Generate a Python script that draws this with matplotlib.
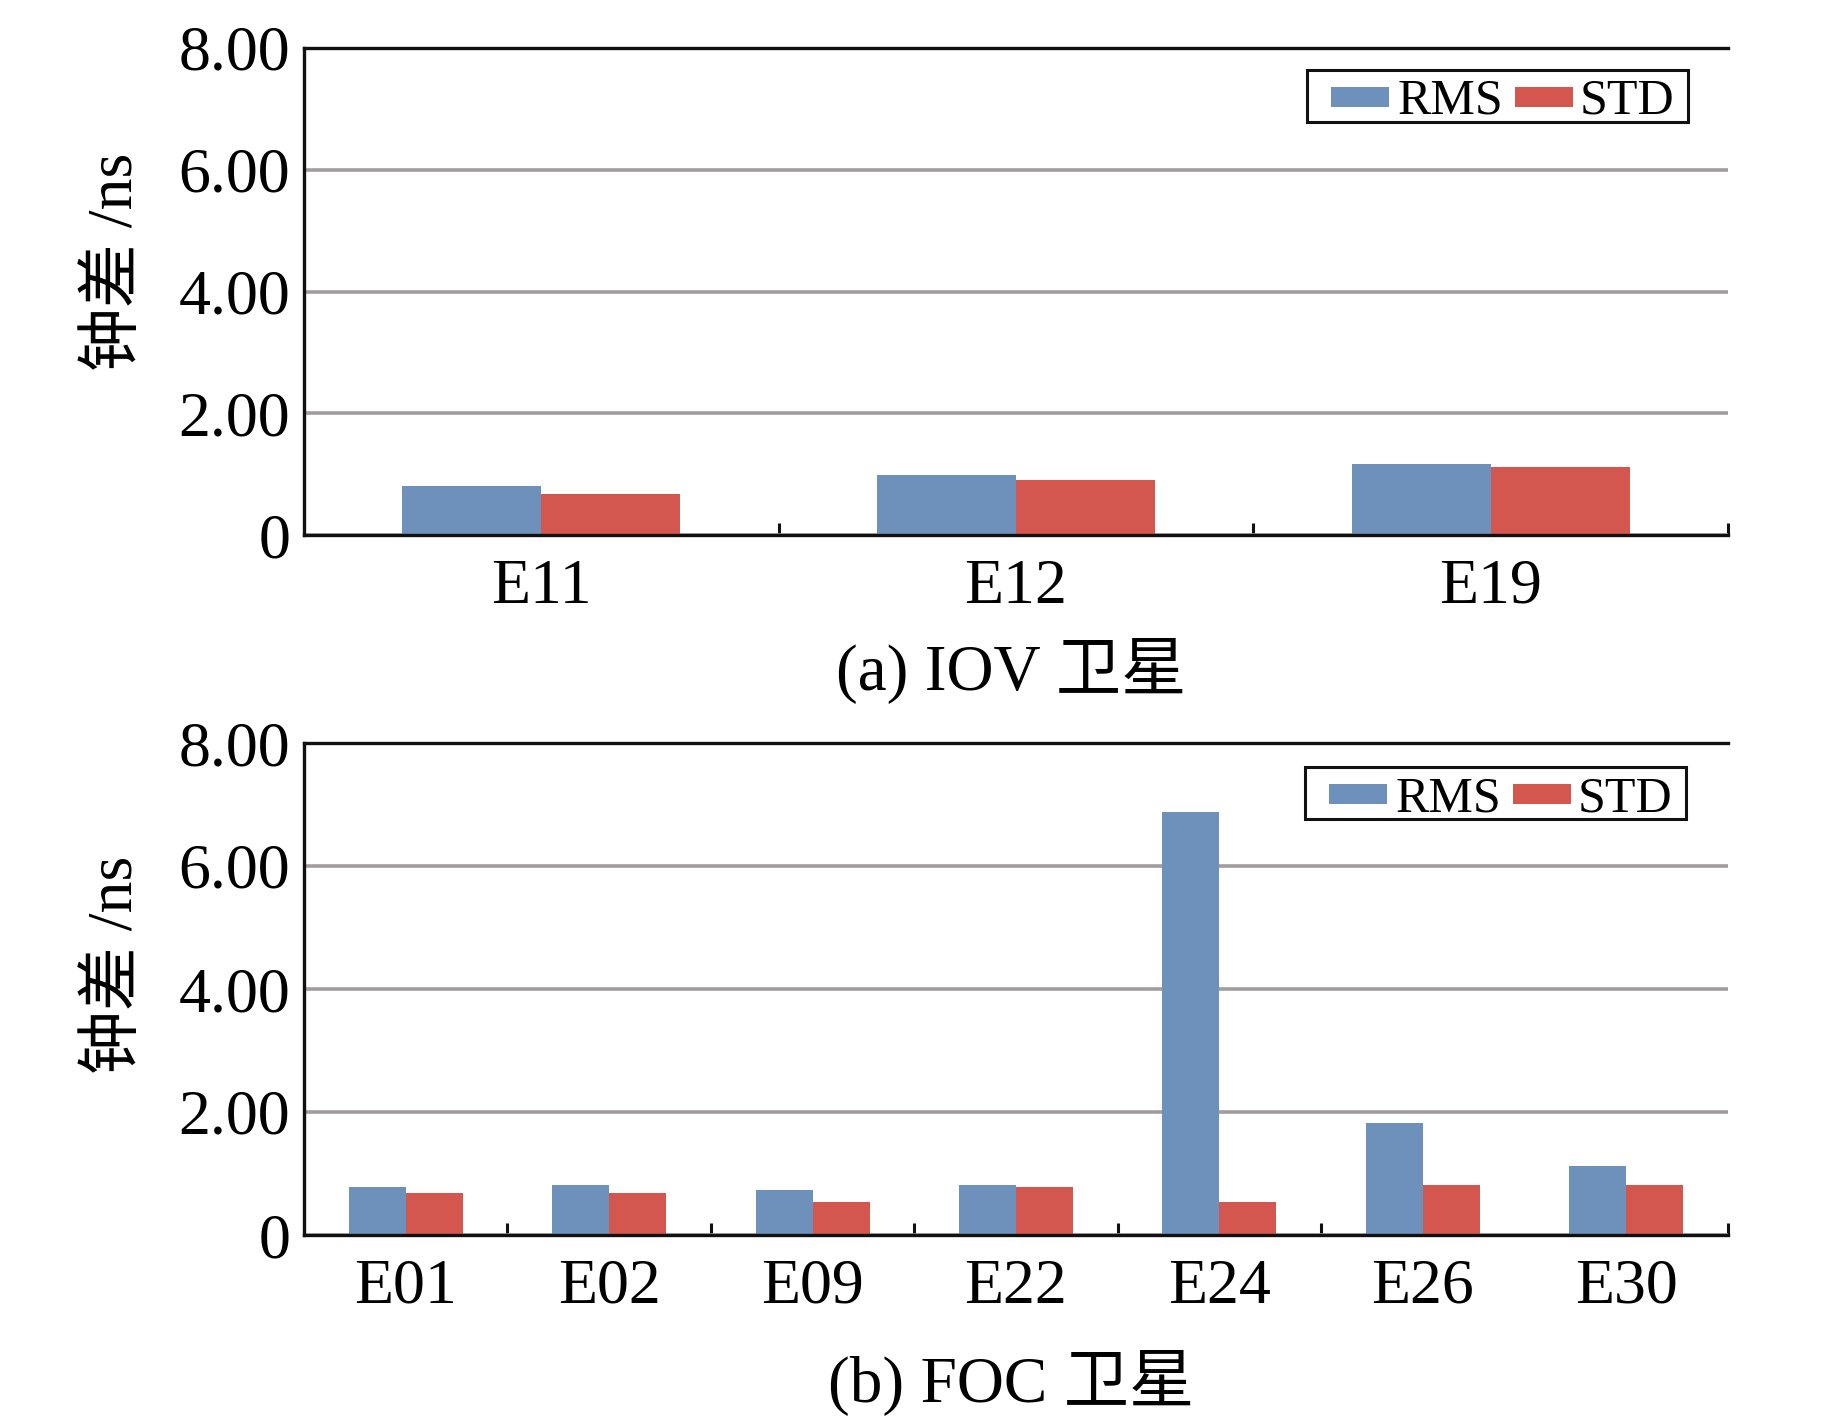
import matplotlib
matplotlib.use("Agg")
import matplotlib.pyplot as plt
from matplotlib.patches import Rectangle
import numpy as np

plt.rcParams['font.family'] = ['Liberation Serif', 'Noto Sans CJK SC']

# ---------------- data ----------------
iov_sats = ['E11', 'E12', 'E19']
iov_rms = [0.81, 0.99, 1.16]
iov_std = [0.67, 0.90, 1.12]

foc_sats = ['E01', 'E02', 'E09', 'E22', 'E24', 'E26', 'E30']
foc_rms = [0.78, 0.82, 0.73, 0.82, 6.87, 1.82, 1.12]
foc_std = [0.69, 0.68, 0.54, 0.78, 0.54, 0.82, 0.82]

y_ticks = [0, 2, 4, 6, 8]
y_ticklabels = ['0', '2.00', '4.00', '6.00', '8.00']
series_names = ['RMS', 'STD']
ylabel = '钟差 /ns'
subtitles = ['(a) IOV 卫星', '(b) FOC 卫星']

# ---------------- style ----------------
W, H = 1843, 1417
DPI = 100
C_RMS = '#6D91BB'
C_STD = '#D4574F'
C_GRID = '#A29D9D'
C_AX = '#111111'
FS = 46

fig = plt.figure(figsize=(W / DPI, H / DPI), dpi=DPI)


def px2fig(x, y):
    return x / W, 1 - y / H


def make_axes(top_px, bottom_px):
    left, right = 304, 1728
    return fig.add_axes([left / W, 1 - bottom_px / H, (right - left) / W,
                        (bottom_px - top_px) / H])


def draw_panel(ax, cats, rms, std, width, tick_bounds):
    n = len(cats)
    x = np.arange(n)
    ax.bar(x - width / 2, rms, width, color=C_RMS, zorder=2, linewidth=0)
    ax.bar(x + width / 2, std, width, color=C_STD, zorder=2, linewidth=0)
    ax.set_xlim(-0.5, n - 0.5)
    ax.set_ylim(0, 8)
    ax.set_yticks(y_ticks)
    ax.set_yticklabels(y_ticklabels)
    ax.set_xticks(x)
    ax.set_xticklabels(cats)
    ax.set_xticks(tick_bounds, minor=True)
    ax.tick_params(axis='y', length=0, pad=10, labelsize=FS)
    ax.tick_params(axis='x', which='major', length=0, pad=17, labelsize=FS)
    ax.tick_params(axis='x', which='minor', direction='in', length=9,
                   width=2.2, color=C_AX)
    ax.yaxis.grid(True, color=C_GRID, linewidth=2.6, zorder=0)
    ax.set_axisbelow(True)
    ax.spines['right'].set_visible(False)
    for s in ['top', 'left', 'bottom']:
        ax.spines[s].set_color(C_AX)
        ax.spines[s].set_linewidth(2.4)
        ax.spines[s].set_zorder(3)


def draw_legend(dx, dy):
    # box
    bx0, by0 = px2fig(1307 + dx, 122 + dy)
    bx1, by1 = px2fig(1688 + dx, 70 + dy)
    fig.patches.append(Rectangle((bx0, by0), bx1 - bx0, by1 - by0,
                                 transform=fig.transFigure, facecolor='white',
                                 edgecolor=C_AX, linewidth=2.2, zorder=5))
    for (hx0, hx1, tx), name, col in zip(
            [(1331, 1389, 1398), (1515, 1573, 1580)], series_names,
            [C_RMS, C_STD]):
        x0, y0 = px2fig(hx0 + dx, 107 + dy)
        x1, y1 = px2fig(hx1 + dx, 87 + dy)
        fig.patches.append(Rectangle((x0, y0), x1 - x0, y1 - y0,
                                     transform=fig.transFigure, facecolor=col,
                                     edgecolor='none', zorder=6))
        tx_, ty_ = px2fig(tx + dx, 114 + dy)
        fig.text(tx_, ty_, name, fontsize=36, ha='left', va='baseline',
                 zorder=7)


ax1 = make_axes(48, 535)
draw_panel(ax1, iov_sats, iov_rms, iov_std, 0.293, [0.5, 1.5, 2.5])
ax2 = make_axes(743, 1235)
draw_panel(ax2, foc_sats, foc_rms, foc_std, 0.28,
           [0.5, 1.5, 2.5, 3.5, 4.5, 6.5])

draw_legend(0, 0)
draw_legend(-2, 697)

# y labels
for cy in (262, 965):
    x, y = px2fig(117, cy)
    fig.text(x, y, ylabel, fontsize=46, rotation=90, ha='center',
             va='center')

# subtitles
for base, txt in zip((690, 1402), subtitles):
    x, y = px2fig(1011, base)
    fig.text(x, y, txt, fontsize=47, ha='center', va='baseline')

fig.savefig('out.png', dpi=DPI, facecolor='white')
